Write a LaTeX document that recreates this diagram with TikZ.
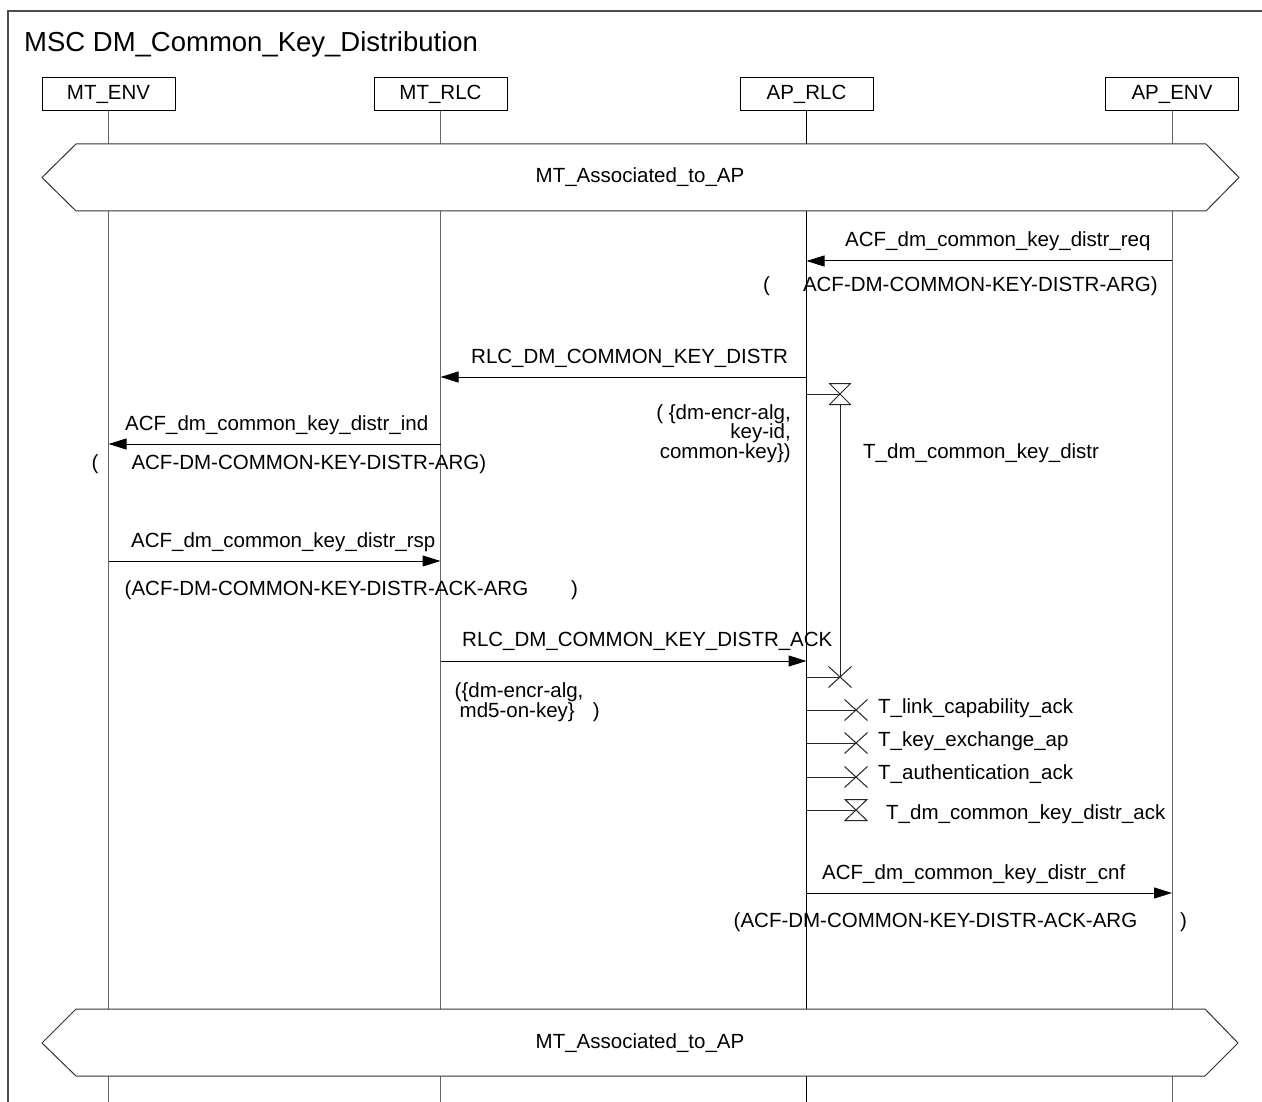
\documentclass[tikz,border=0pt]{standalone}
\usepackage{fontspec}
\setmainfont{Liberation Sans}
\usetikzlibrary{arrows.meta,shapes.misc}
\newcommand{\msgfont}{\fontsize{20.5}{19.5}\selectfont}
\tikzset{
  frame/.style={line width=1.2pt,black!70},
  title/.style={anchor=base west,inner sep=0pt,font=\fontsize{27.5}{30}\selectfont},
  instance/.style={draw=black,line width=1pt,fill=white,minimum width=133pt,
    minimum height=33pt,inner sep=0pt,font=\msgfont},
  lifeline/.style={line width=1pt,black!60},
  condition/.style={draw=black!80,line width=1pt,fill=white},
  condtext/.style={inner sep=0pt,font=\msgfont},
  msg/.style={-{Triangle[length=18pt,width=11pt]},line width=1pt,black},
  msglabel/.style={anchor=base west,inner sep=0pt,font=\msgfont},
  timerline/.style={line width=1pt,black!85},
  timeout/.style={cross out,draw=black!85,line width=1pt,minimum width=22pt,
    minimum height=20pt,inner sep=0pt}
}
\begin{document}
\begin{tikzpicture}[x=1pt,y=-1pt]
  \useasboundingbox (0,0) rectangle (1262,1102);
  \draw[frame] (8,1102) -- (8,11) -- (1262,11);
  \node[title] (msc) at (24,52) {MSC DM\_Common\_Key\_Distribution};
  % instances
  \node[instance] (mtenv) at (108.5,94.5) {MT\_ENV};
  \node[instance] (mtrlc) at (440.5,94.5) {MT\_RLC};
  \node[instance] (aprlc) at (806.5,94.5) {AP\_RLC};
  \node[instance] (apenv) at (1172,94.5) {AP\_ENV};
  \coordinate (bottom) at (0,1102);
  \draw[lifeline] (mtenv.south) -- (mtenv |- bottom);
  \draw[lifeline] (mtrlc.south) -- (mtrlc |- bottom);
  \draw[lifeline,black] (aprlc.south) -- (aprlc |- bottom);
  \draw[lifeline] (apenv.south) -- (apenv |- bottom);
  % conditions
  \draw[condition] (76,144) -- (1206,144) -- (1239,177.5) -- (1206,211)
    -- (76,211) -- (42,177.5) -- cycle;
  \node[condtext] (cond1) at (640,177.5) {MT\_Associated\_to\_AP};
  \draw[condition] (76,1009) -- (1205,1009) -- (1238,1043) -- (1205,1076)
    -- (76,1076) -- (42,1043) -- cycle;
  \node[condtext] (cond2) at (640,1043) {MT\_Associated\_to\_AP};
  % request from AP_ENV
  \coordinate (m1) at (0,261);
  \draw[msg] (apenv |- m1) -- (aprlc |- m1);
  \node[msglabel] (l1) at (845,247) {ACF\_dm\_common\_key\_distr\_req};
  \node[msglabel] (p1) at (763,291) {(\hspace{33pt}ACF-DM-COMMON-KEY-DISTR-ARG)};
  \coordinate (m2) at (0,377);
  \draw[msg] (aprlc |- m2) -- (mtrlc |- m2);
  \node[msglabel] (l2) at (471,363) {RLC\_DM\_COMMON\_KEY\_DISTR};
  \node[msglabel,anchor=base east,align=right] (p2) at (791,458)
    {(\ \{dm-encr-alg,\\ key-id,\\ common-key\})};
  % timer T_dm_common_key_distr
  \coordinate (t1) at (840,394);
  \coordinate (t1end) at (840,677);
  \draw[timerline] (aprlc |- t1) -- (t1);
  \draw[timerline] (t1) ++(-10.5,-10.5) -- ++(21,0) -- ++(-21,21) -- ++(21,0) -- cycle;
  \draw[timerline] (t1) ++(0,10.5) -- (t1end);
  \node[msglabel] (tl1) at (863,458) {T\_dm\_common\_key\_distr};
  % indication / response on MT side
  \coordinate (m3) at (0,444);
  \draw[msg] (mtrlc |- m3) -- (mtenv |- m3);
  \node[msglabel] (l3) at (125,430) {ACF\_dm\_common\_key\_distr\_ind};
  \node[msglabel] (p3) at (91.5,469) {(\hspace{33pt}ACF-DM-COMMON-KEY-DISTR-ARG)};
  \coordinate (m4) at (0,561);
  \draw[msg] (mtenv |- m4) -- (mtrlc |- m4);
  \node[msglabel] (l4) at (131,547) {ACF\_dm\_common\_key\_distr\_rsp};
  \node[msglabel] (p4) at (124.5,595) {(ACF-DM-COMMON-KEY-DISTR-ACK-ARG\hspace{43pt})};
  \coordinate (m5) at (0,661);
  \draw[msg] (mtrlc |- m5) -- (aprlc |- m5);
  \node[msglabel] (l5) at (462,646) {RLC\_DM\_COMMON\_KEY\_DISTR\_ACK};
  \node[msglabel,align=left] (p5) at (454.5,717)
    {(\{dm-encr-alg,\\\hspace*{5pt}md5-on-key\}\hspace{18pt})};
  % timers stopped on AP_RLC
  \node[timeout] (x0) at (t1end) {};
  \draw[timerline] (aprlc |- x0) -- (x0.center);
  \node[timeout] (x1) at (856,710) {};
  \draw[timerline] (aprlc |- x1) -- (x1.center);
  \node[msglabel] (tl2) at (878,713) {T\_link\_capability\_ack};
  \node[timeout] (x2) at (856,743) {};
  \draw[timerline] (aprlc |- x2) -- (x2.center);
  \node[msglabel] (tl3) at (878,746) {T\_key\_exchange\_ap};
  \node[timeout] (x3) at (856,777) {};
  \draw[timerline] (aprlc |- x3) -- (x3.center);
  \node[msglabel] (tl4) at (878,779) {T\_authentication\_ack};
  % timer T_dm_common_key_distr_ack
  \coordinate (t2) at (856,810);
  \draw[timerline] (aprlc |- t2) -- (t2);
  \draw[timerline] (t2) ++(-11,-10.5) -- ++(22,0) -- ++(-22,21) -- ++(22,0) -- cycle;
  \node[msglabel] (tl5) at (886,819) {T\_dm\_common\_key\_distr\_ack};
  % confirmation to AP_ENV
  \coordinate (m6) at (0,893);
  \draw[msg] (aprlc |- m6) -- (apenv |- m6);
  \node[msglabel] (l6) at (822,879) {ACF\_dm\_common\_key\_distr\_cnf};
  \node[msglabel] (p6) at (733.5,927) {(ACF-DM-COMMON-KEY-DISTR-ACK-ARG\hspace{43pt})};
\end{tikzpicture}
\end{document}
